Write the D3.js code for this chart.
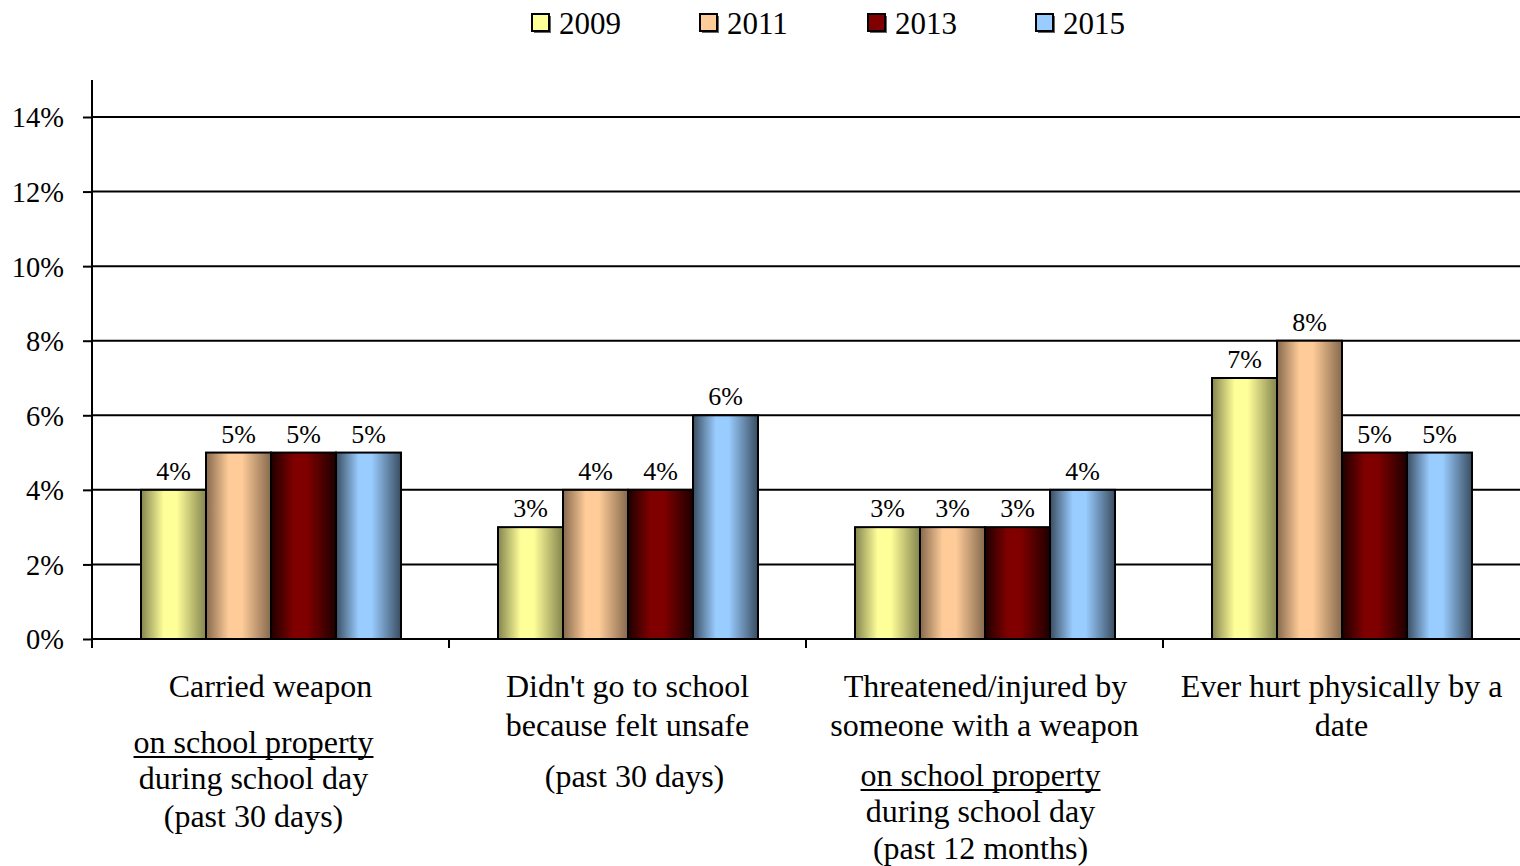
<!DOCTYPE html>
<html><head><meta charset="utf-8">
<script src="https://cdn.jsdelivr.net/npm/d3@7"></script>
<style>body{margin:0;background:#fff}svg{display:block}text{font-family:"Liberation Serif","Times New Roman",serif;fill:#000}</style>
</head><body><svg id="c" width="1520" height="866"></svg>
<script>
const years = ["2009","2011","2013","2015"];
const categories = ["Carried weapon","Didn't go to school","Threatened/injured","Ever hurt physically"];
const v2009 = [4,3,3,7];
const v2011 = [5,4,3,8];
const v2013 = [5,4,3,5];
const v2015 = [5,6,4,5];
const yTicks = [0,2,4,6,8,10,12,14];
const labelLines = [
  [["Carried weapon",false],["on school property",true],["during school day",false],["(past 30 days)",false]],
  [["Didn't go to school",false],["because felt unsafe",false],["(past 30 days)",false]],
  [["Threatened/injured by",false],["someone with a weapon",false],["on school property",true],["during school day",false],["(past 12 months)",false]],
  [["Ever hurt physically by a",false],["date",false]]
];
// layout (positions only)
const lineY = [[686,742,778,816],[686,725,776],[686,725,775,811,848],[686,725]];
const lineDx = [[0,-17,-17,-17],[0,0,7],[1,0,-4,-4,-4],[0,0]];

const series = [v2009,v2011,v2013,v2015];
const colors = [
  {mid:"#ffff99",edge:"#84844f"},
  {mid:"#ffcc99",edge:"#86694d"},
  {mid:"#800000",edge:"#1e0000"},
  {mid:"#99ccff",edge:"#3a4d61"}
];
const svg = d3.select("#c");
const L=92,R=1520,T=117,B=639;
const x = d3.scaleBand().domain(categories).range([L,R]);
const xi = d3.scaleBand().domain(years).range([49, x.bandwidth()-48]).padding(0);
const y = d3.scaleLinear().domain([0,14]).range([B,T]);

const defs = svg.append("defs");
colors.forEach((c,i)=>{
  const g = defs.append("linearGradient").attr("id","g"+i).attr("x1","0").attr("x2","1").attr("y1","0").attr("y2","0");
  g.append("stop").attr("offset","0%").attr("stop-color",c.edge);
  g.append("stop").attr("offset","35%").attr("stop-color",c.mid);
  g.append("stop").attr("offset","55%").attr("stop-color",c.mid);
  g.append("stop").attr("offset","100%").attr("stop-color",c.edge);
});

// gridlines
svg.append("g").selectAll("line").data(yTicks).join("line")
  .attr("x1",L).attr("x2",R).attr("y1",d=>y(d)).attr("y2",d=>y(d))
  .attr("stroke","#000").attr("stroke-width",2);

// y axis
const ya = svg.append("g").attr("transform",`translate(${L},0)`)
  .call(d3.axisLeft(y).tickValues(yTicks).tickFormat(d=>d+"%").tickSize(9).tickSizeOuter(0));
ya.select(".domain").remove();
ya.selectAll(".tick line").attr("stroke","#000").attr("stroke-width",2);
ya.selectAll(".tick text").attr("font-size",28.5).attr("x",-28).attr("dy","0.35em")
  .style("font-family","'Liberation Serif',serif");
svg.append("line").attr("x1",L).attr("x2",L).attr("y1",80).attr("y2",B+9).attr("stroke","#000").attr("stroke-width",2);

// x category ticks
svg.append("g").selectAll("line").data(categories.slice(1).map(c=>x(c)))
  .join("line").attr("x1",d=>d).attr("x2",d=>d).attr("y1",B).attr("y2",B+9)
  .attr("stroke","#000").attr("stroke-width",2);

// bars
const groups = svg.append("g").selectAll("g").data(categories).join("g")
  .attr("transform",d=>`translate(${x(d)},0)`);
groups.each(function(c,ci){
  const g = d3.select(this);
  years.forEach((yr,si)=>{
    const v = series[si][ci];
    g.append("rect").attr("x",xi(yr)).attr("width",xi.bandwidth())
      .attr("y",y(v)).attr("height",B-y(v))
      .attr("fill",`url(#g${si})`).attr("stroke","#000").attr("stroke-width",2);
    g.append("text").attr("x",xi(yr)+xi.bandwidth()/2).attr("y",y(v)-10)
      .attr("text-anchor","middle").attr("font-size",26).text(v+"%");
  });
});

// category labels
categories.forEach((c,ci)=>{
  const cx = x(c)+x.bandwidth()/2;
  labelLines[ci].forEach((ln,li)=>{
    const t = svg.append("text").attr("x",cx+lineDx[ci][li]).attr("y",lineY[ci][li])
      .attr("dy","0.35em").attr("text-anchor","middle").attr("font-size",32).text(ln[0]);
    if(ln[1]){
      const w = t.node().getComputedTextLength();
      svg.append("line").attr("x1",cx+lineDx[ci][li]-w/2).attr("x2",cx+lineDx[ci][li]+w/2)
        .attr("y1",lineY[ci][li]+15).attr("y2",lineY[ci][li]+15).attr("stroke","#000").attr("stroke-width",2);
    }
  });
});

// legend
const legX = [532,700,868,1036];
const leg = svg.append("g");
years.forEach((yr,i)=>{
  leg.append("rect").attr("x",legX[i]+2).attr("y",16).attr("width",17).attr("height",17).attr("fill","#666");
  leg.append("rect").attr("x",legX[i]).attr("y",14).attr("width",17).attr("height",17)
    .attr("fill",colors[i].mid).attr("stroke","#000").attr("stroke-width",2);
  leg.append("text").attr("x",legX[i]+27).attr("y",23).attr("dy","0.35em").attr("font-size",31).text(yr);
});
</script></body></html>
